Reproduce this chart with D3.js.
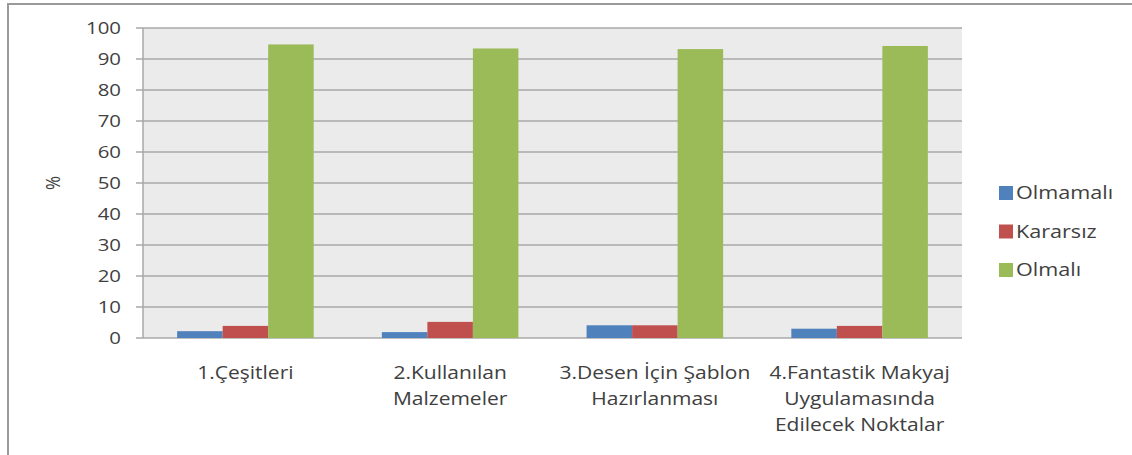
<!DOCTYPE html>
<html>
<head>
<meta charset="utf-8">
<script src="https://cdn.jsdelivr.net/npm/d3@7"></script>
<style>
  body { margin: 0; background: #fff; }
  text { font-family: "Open Sans", sans-serif; fill: #404040; }
</style>
</head>
<body>
<div id="chart"></div>
<script>
var categories = [
    ["1.Çeşitleri"],
    ["2.Kullanılan", "Malzemeler"],
    ["3.Desen İçin Şablon", "Hazırlanması"],
    ["4.Fantastik Makyaj", "Uygulamasında", "Edilecek Noktalar"]
];
var seriesNames = ["Olmamalı", "Kararsız", "Olmalı"];
var olmamali = [2.2, 1.9, 4.1, 3.0];
var kararsiz = [3.9, 5.2, 4.1, 3.9];
var olmali = [94.7, 93.4, 93.2, 94.2];
var yTicks = [0, 10, 20, 30, 40, 50, 60, 70, 80, 90, 100];
var colors = ["#4f81bd", "#c0504d", "#9bbb59"];

var width = 1132, height = 455;
var margin = {left: 143, right: 170, top: 28, bottom: 117};
// the original picture is stretched sideways, so the text is too
var stretch = 1.2;

var svg = d3.select("#chart").append("svg")
    .attr("width", width)
    .attr("height", height);

// outer frame (cropped at right and bottom)
svg.append("rect")
    .attr("x", 8).attr("y", 4)
    .attr("width", width + 20).attr("height", height + 20)
    .attr("fill", "#fff")
    .attr("stroke", "#9a9a9a")
    .attr("stroke-width", 2);

var x0 = d3.scaleBand()
    .domain(d3.range(categories.length))
    .range([margin.left, width - margin.right])
    .paddingInner(0.333)
    .paddingOuter(0.1667);

var x1 = d3.scaleBand()
    .domain(d3.range(seriesNames.length))
    .range([0, x0.bandwidth()]);

var y = d3.scaleLinear()
    .domain([0, 100])
    .range([height - margin.bottom, margin.top]);

// plot background
svg.append("rect")
    .attr("x", margin.left).attr("y", y(100))
    .attr("width", width - margin.right - margin.left)
    .attr("height", y(0) - y(100))
    .attr("fill", "#ebebeb");

// grid
svg.append("g").selectAll("line").data(yTicks)
    .enter().append("line")
    .attr("x1", margin.left - 7).attr("x2", width - margin.right)
    .attr("y1", function(d) { return y(d); })
    .attr("y2", function(d) { return y(d); })
    .attr("stroke", "#a8a8a8")
    .attr("stroke-width", 1.5);

svg.append("line")
    .attr("x1", margin.left).attr("x2", margin.left)
    .attr("y1", y(100)).attr("y2", y(0))
    .attr("stroke", "#a8a8a8")
    .attr("stroke-width", 1.5);

svg.append("g").selectAll("text").data(yTicks)
    .enter().append("text")
    .attr("transform", function(d) { return "translate(121," + y(d) + ") scale(" + stretch + ",1)"; })
    .attr("dy", "0.35em")
    .attr("text-anchor", "end")
    .style("font-size", "17px")
    .text(function(d) { return d; });

svg.append("text")
    .attr("transform", "translate(53," + y(50) + ") rotate(-90) scale(1," + stretch + ")")
    .attr("text-anchor", "middle")
    .attr("dy", "0.35em")
    .style("font-size", "17px")
    .text("%");

// bars
var series = [olmamali, kararsiz, olmali];
var groups = svg.append("g").selectAll("g").data(categories)
    .enter().append("g")
    .attr("transform", function(d, i) { return "translate(" + x0(i) + ",0)"; });

groups.selectAll("rect")
    .data(function(d, i) { return series.map(function(s, k) { return {k: k, v: s[i]}; }); })
    .enter().append("rect")
    .attr("x", function(d) { return x1(d.k); })
    .attr("width", x1.bandwidth())
    .attr("y", function(d) { return y(d.v); })
    .attr("height", function(d) { return y(0) - y(d.v); })
    .attr("fill", function(d) { return colors[d.k]; });

// category labels
groups.append("text")
    .attr("transform", "translate(" + (x0.bandwidth() / 2) + ",0) scale(" + stretch + ",1)")
    .attr("text-anchor", "middle")
    .style("font-size", "17.5px")
    .selectAll("tspan").data(function(d) { return d; })
    .enter().append("tspan")
    .attr("x", 0)
    .attr("y", function(d, i) { return 379 + i * 26; })
    .text(function(d) { return d; });

// legend
var legend = svg.append("g").selectAll("g").data(seriesNames)
    .enter().append("g")
    .attr("transform", function(d, i) { return "translate(999," + (193 + i * 38.5) + ")"; });

legend.append("rect")
    .attr("x", 0).attr("y", -7)
    .attr("width", 14).attr("height", 14)
    .attr("fill", function(d, i) { return colors[i]; });

legend.append("text")
    .attr("transform", "translate(17,0) scale(" + stretch + ",1)")
    .attr("dy", "0.35em")
    .style("font-size", "18px")
    .text(function(d) { return d; });
</script>
</body>
</html>
